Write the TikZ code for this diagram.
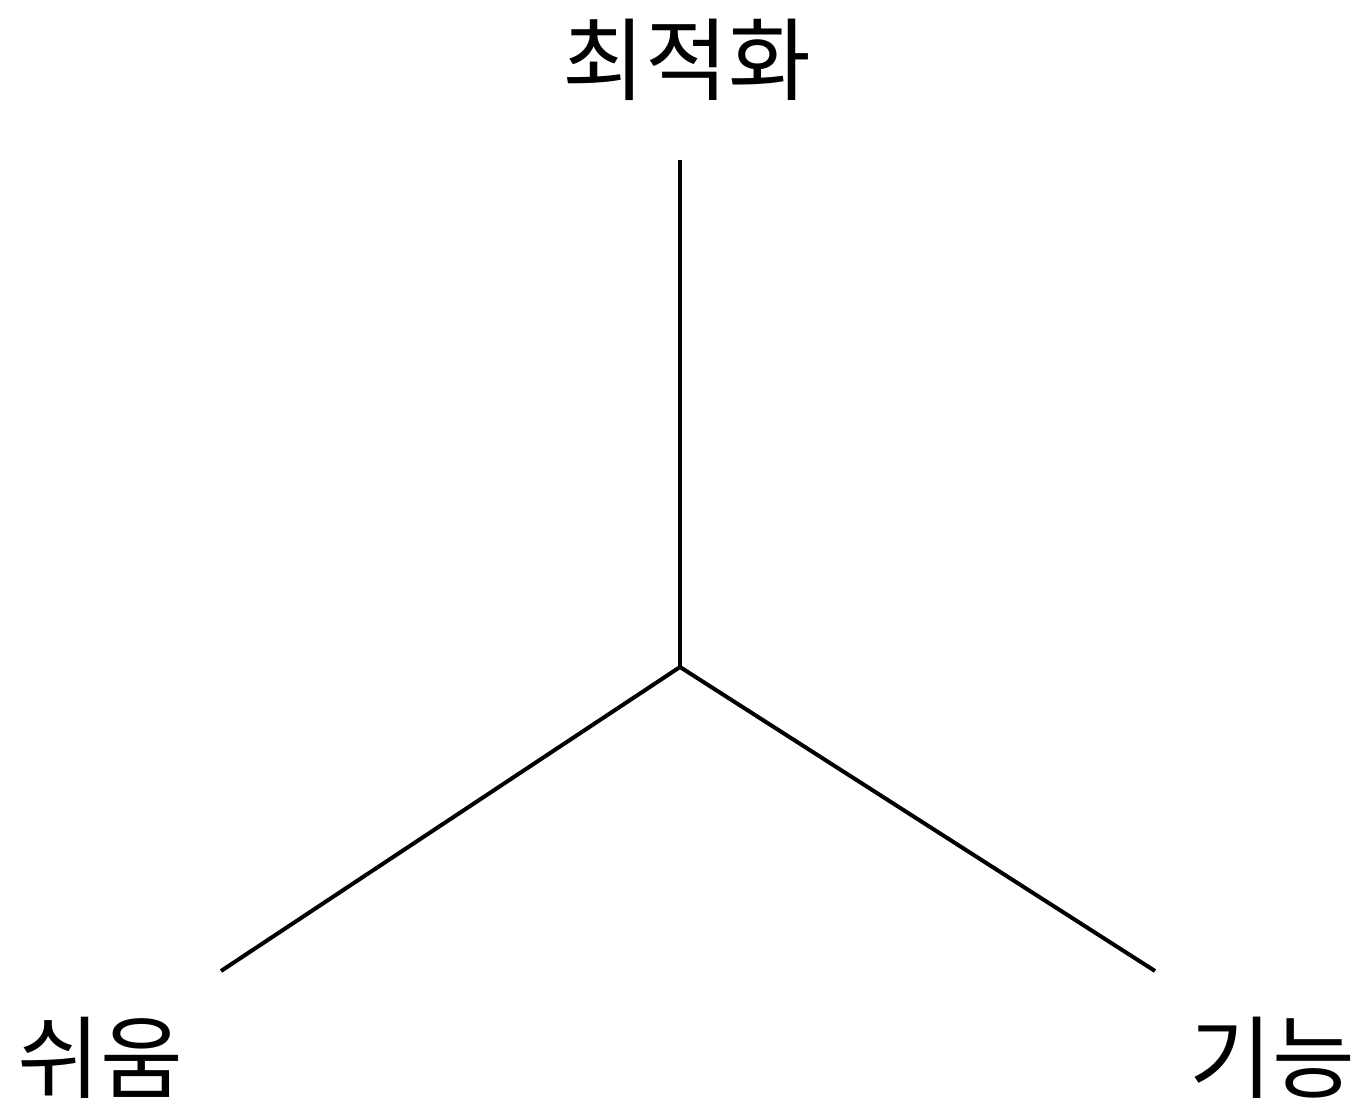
\documentclass[tikz,border=0pt]{standalone}
\usepackage{fontspec}
\newfontfamily\kr{Noto Sans CJK KR}
\begin{document}
\begin{tikzpicture}[x=1pt,y=-1pt,
  lbl/.style={font=\kr\fontsize{90}{94}\selectfont, inner sep=0pt, anchor=center},
  arm/.style={line width=4pt, black}]
\useasboundingbox (0,0) rectangle (1359,1105);
\coordinate (c) at (680,667);
\coordinate (t) at (680,160);
\coordinate (l) at (221,971);
\coordinate (r) at (1155,971);
\node[lbl] (top) at (687,60) {최적화};
\node[lbl] (left) at (100,1058) {쉬움};
\node[lbl] (right) at (1272,1058) {기능};
\draw[arm] (t) -- (c);
\draw[arm] (c) -- (l);
\draw[arm] (c) -- (r);
\end{tikzpicture}
\end{document}
